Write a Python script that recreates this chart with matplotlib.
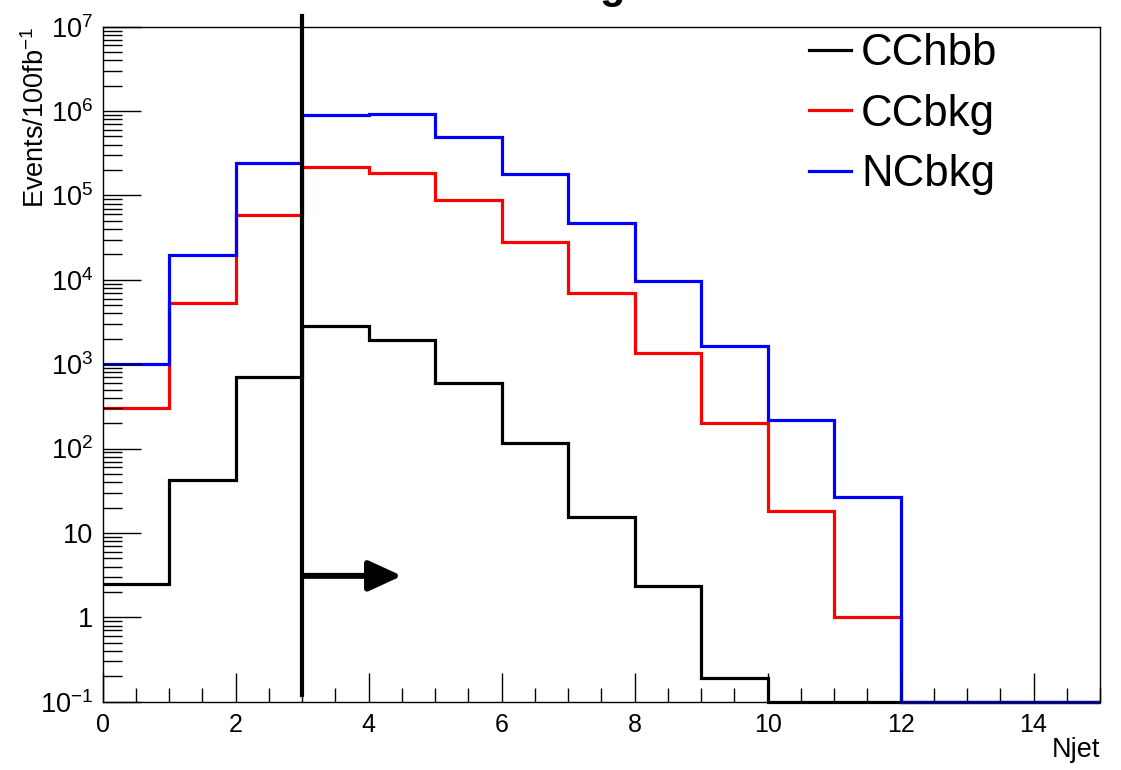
import numpy as np
import matplotlib
matplotlib.use('Agg')
import matplotlib.pyplot as plt
from matplotlib.ticker import FixedLocator, FixedFormatter, MultipleLocator

plt.rcParams['font.family'] = ['Liberation Sans', 'DejaVu Sans']
plt.rcParams['mathtext.fontset'] = 'custom'
plt.rcParams['mathtext.rm'] = 'Liberation Sans'
plt.rcParams['mathtext.it'] = 'Liberation Sans:italic'

# histogram data (Njet bins 0..15)
edges = np.arange(0, 16)
cchbb = [2.45, 43, 700, 2840, 1940, 596, 118, 15.6, 2.36, 0.19, 0, 0, 0, 0, 0]
ccbkg = [300, 5250, 58700, 2.19e5, 1.86e5, 8.85e4, 2.81e4, 7050, 1360, 200, 18.3, 1.0, 0, 0, 0]
ncbkg = [1000, 19700, 2.4e5, 9.0e5, 9.16e5, 4.89e5, 1.78e5, 4.68e4, 9700, 1630, 217, 27, 0, 0, 0]
labels = ['CChbb', 'CCbkg', 'NCbkg']
colors = ['black', 'red', 'blue']

ytick_vals = [1e-1, 1, 10, 1e2, 1e3, 1e4, 1e5, 1e6, 1e7]
ytick_labels = [r'$\mathregular{10^{-1}}$', '1', '10', r'$\mathregular{10^{2}}$',
                r'$\mathregular{10^{3}}$', r'$\mathregular{10^{4}}$', r'$\mathregular{10^{5}}$',
                r'$\mathregular{10^{6}}$', r'$\mathregular{10^{7}}$']

cut = 3.0
ymin, ymax = 1e-1, 1e7

fig = plt.figure(figsize=(11.21, 7.7), dpi=100)
ax = fig.add_axes([0.0916, 0.0887, 0.8897, 0.8766])

for vals, lab, col in zip([cchbb, ccbkg, ncbkg], labels, colors):
    v = np.array(vals, dtype=float)
    v = np.where(v > 0, v, ymin)
    ax.stairs(v, edges, baseline=None, color=col, lw=2.3, label=lab, clip_on=False)

ax.set_yscale('log')
ax.set_xlim(0, 15)
ax.set_ylim(ymin, ymax)

# cut line and arrow
ax.plot([cut, cut], [0.12, 1.35e7], color='black', lw=3.0, clip_on=False, zorder=5)
ax.annotate('', xy=(4.5, 3.1), xytext=(cut + 0.03, 3.1),
            arrowprops=dict(arrowstyle='-|>,head_length=1.0,head_width=0.46',
                            mutation_scale=20, lw=4.3, color='black',
                            shrinkA=0, shrinkB=0), zorder=5)

# ROOT-like ticks
ax.xaxis.set_major_locator(MultipleLocator(2))
ax.xaxis.set_minor_locator(MultipleLocator(0.5))
ax.yaxis.set_major_locator(FixedLocator(ytick_vals))
ax.yaxis.set_major_formatter(FixedFormatter(ytick_labels))
ax.yaxis.set_minor_locator(matplotlib.ticker.LogLocator(base=10, subs=np.arange(2, 10), numticks=20))
ax.yaxis.set_minor_formatter(matplotlib.ticker.NullFormatter())
ax.tick_params(axis='both', which='both', direction='in', top=False, right=False, width=1.0)
ax.tick_params(axis='x', which='major', length=21, pad=8, labelsize=18)
ax.tick_params(axis='x', which='minor', length=10)
ax.tick_params(axis='y', which='major', length=27, pad=7, labelsize=19.5)
ax.tick_params(axis='y', which='minor', length=14)
for s in ax.spines.values():
    s.set_linewidth(1.0)

fig.text(36 / 1121, 1 - 27 / 770, r'Events/100fb$\mathregular{^{-1}}$', rotation=90,
         ha='center', va='top', fontsize=19.5)
fig.text(1100 / 1121, 1 - 756.7 / 770, 'Njet', ha='right', va='baseline', fontsize=19.5)

# title is cut off at the top of the image
fig.text(612 / 1121, 1 + 2.3 / 770, 'g', ha='center', va='baseline',
         fontsize=30, fontweight='bold')

ax.legend(loc='upper left', bbox_to_anchor=(809 / 1121, 1 - 33 / 770),
          bbox_transform=fig.transFigure, frameon=False, fontsize=31.5,
          handlelength=0.96, handletextpad=0.23, labelspacing=0.45,
          borderpad=0, borderaxespad=0)

fig.savefig('out.png', dpi=100)
